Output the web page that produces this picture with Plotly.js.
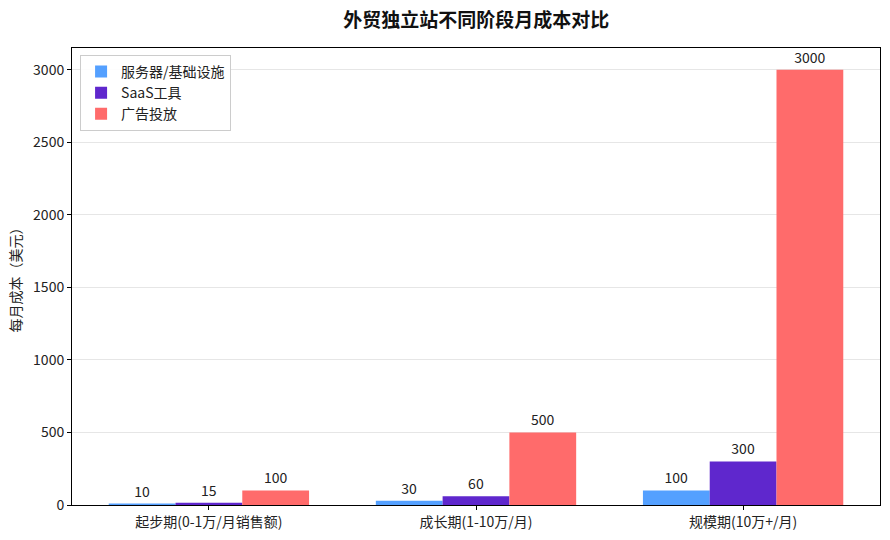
<!DOCTYPE html>
<html>
<head>
<meta charset="utf-8">
<script src="https://cdn.plot.ly/plotly-3.0.1.min.js"></script>
<style>body{margin:0;background:#fff}#chart{width:890px;height:540px}</style>
</head>
<body>
<div id="chart"></div>
<script>
const categories = ["起步期(0-1万/月销售额)", "成长期(1-10万/月)", "规模期(10万+/月)"];
const seriesNames = ["服务器/基础设施", "SaaS工具", "广告投放"];
const serverCost = [10, 30, 100];
const saasCost = [15, 60, 300];
const adCost = [100, 500, 3000];
const colors = ["#54a0ff", "#5f27cd", "#ff6b6b"];

const FONT = "Noto Sans CJK SC, Noto Sans, sans-serif";
const xIdx = categories.map((c, i) => i);
const allSeries = [serverCost, saasCost, adCost];
const offsets = [-0.25, 0, 0.25];

const traces = allSeries.map((vals, k) => ({
  type: "bar",
  name: seriesNames[k],
  x: xIdx.map(i => i + offsets[k]),
  y: vals,
  width: 0.25,
  marker: {color: colors[k], line: {width: 0}},
  text: vals.map(v => String(v)),
  textposition: "outside",
  cliponaxis: false,
  textfont: {family: FONT, size: 14, color: "#222"},
  hoverinfo: "y"
}));

const layout = {
  width: 890, height: 540,
  margin: {l: 72, r: 10, t: 48, b: 35, pad: 0},
  paper_bgcolor: "#fff", plot_bgcolor: "#fff",
  font: {family: FONT, size: 14, color: "#222"},
  title: {text: "<b>外贸独立站不同阶段月成本对比</b>", x: 0.535, xanchor: "center", y: 0.962, yanchor: "middle",
          font: {family: FONT, size: 19, color: "#111"}},
  barmode: "overlay",
  showlegend: true,
  legend: {x: 0.01, y: 0.985, xanchor: "left", yanchor: "top", bgcolor: "rgba(255,255,255,0.9)",
           bordercolor: "#cccccc", borderwidth: 1, font: {family: FONT, size: 14, color: "#222"},
           tracegroupgap: 2, itemwidth: 30},
  xaxis: {range: [-0.5125, 2.5125], tickmode: "array", tickvals: xIdx, ticktext: categories,
          showgrid: false, zeroline: false, showline: true, linecolor: "#000", linewidth: 1, mirror: true,
          ticks: "outside", ticklen: 4, tickcolor: "#000", tickfont: {family: FONT, size: 14, color: "#222"}},
  yaxis: {range: [0, 3150], tickmode: "array", tickvals: [0, 500, 1000, 1500, 2000, 2500, 3000],
          showgrid: true, gridcolor: "#e6e6e6", gridwidth: 1, zeroline: false,
          showline: true, linecolor: "#000", linewidth: 1, mirror: true,
          ticks: "outside", ticklen: 4, tickcolor: "#000", tickfont: {family: FONT, size: 14, color: "#222"},
          title: {text: "每月成本（美元）", font: {family: FONT, size: 14, color: "#222"}, standoff: 8}}
};

Plotly.newPlot("chart", traces, layout, {displayModeBar: false, staticPlot: true});
</script>
</body>
</html>
